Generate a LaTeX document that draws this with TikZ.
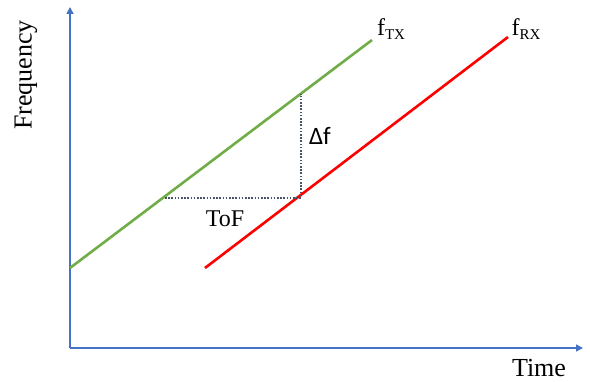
\documentclass[tikz,border=0pt]{standalone}
\usepackage{fontspec}
\setmainfont{Liberation Serif}
\newfontfamily\calib{Carlito}
\usetikzlibrary{arrows.meta}
\definecolor{axisblue}{RGB}{68,114,196}
\definecolor{tgreen}{RGB}{112,173,71}
\definecolor{dotblue}{RGB}{68,84,106}
\tikzset{
  axis/.style={draw=axisblue, line width=1.6pt, -{Triangle[length=7pt,width=7pt]}},
  chirp/.style={line width=2.6pt},
  guide/.style={draw=dotblue, line width=1.1pt, dash pattern=on 1.6pt off 1.6pt},
  lbl/.style={inner sep=0pt, font=\fontsize{26}{28}\selectfont},
  flbl/.style={inner sep=0pt, font=\fontsize{24}{26}\selectfont},
  sanslbl/.style={inner sep=0pt, font=\calib\fontsize{25}{27}\selectfont}
}
\begin{document}
\begin{tikzpicture}[x=1pt,y=-1pt]
\useasboundingbox (0,0) rectangle (590,382);
\coordinate (O) at (70,348);
\coordinate (ytip) at (70,7);
\coordinate (xtip) at (583,348);
\draw[axis] (O) -- (ytip);
\draw[axis] (O) -- (xtip);
\coordinate (g1) at (70,268);
\coordinate (g2) at (372,40);
\coordinate (r1) at (205,268);
\coordinate (r2) at (508,37);
\draw[chirp, tgreen] (g1) -- (g2);
\draw[chirp, red] (r1) -- (r2);
\coordinate (d1) at (165,198);
\coordinate (d2) at (301,198);
\coordinate (d3) at (301,93.6);
\draw[guide] (d1) -- (d2) -- (d3);
\node[flbl] (ftx) at (391,29) {f\raisebox{-0.3ex}{\fontsize{15}{15}\selectfont TX}};
\node[flbl] (frx) at (526,29) {f\raisebox{-0.3ex}{\fontsize{15}{15}\selectfont RX}};
\node[sanslbl] (df) at (320,136) {Δf};
\node[flbl] (tof) at (225,219) {ToF};
\node[lbl, rotate=90] (freq) at (26,75) {Frequency};
\node[lbl] (time) at (539,368) {Time};
\end{tikzpicture}
\end{document}
